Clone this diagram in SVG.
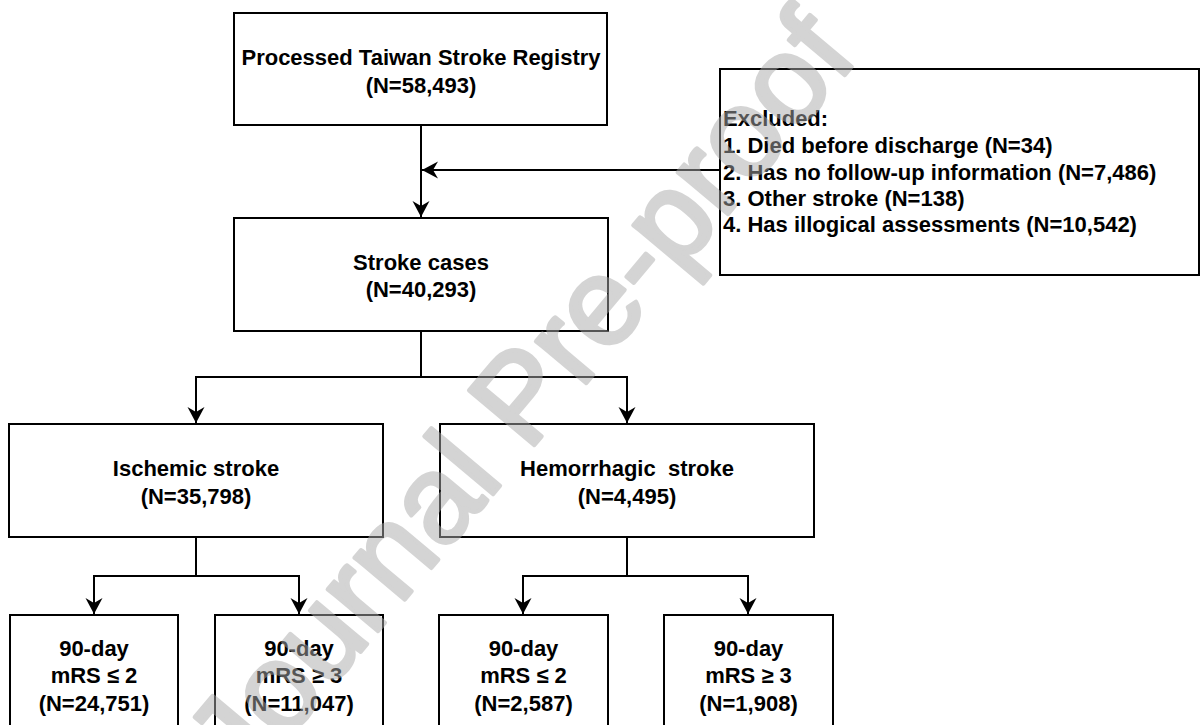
<svg xmlns="http://www.w3.org/2000/svg" width="1201" height="725" viewBox="0 0 1201 725">
<style>
.box{fill:#fff;stroke:#000;stroke-width:2}
.t{font-family:"Liberation Sans",Arial,sans-serif;font-weight:bold;font-size:22px;fill:#000;text-anchor:middle}
.tl{font-family:"Liberation Sans",Arial,sans-serif;font-weight:bold;font-size:22px;fill:#000}
.c{fill:none;stroke:#000;stroke-width:2}
.wm{font-family:"Liberation Sans",Arial,sans-serif;font-size:124px;fill:#aaaaaa;stroke:#aaaaaa;stroke-width:4;stroke-linejoin:round;opacity:0.5;text-anchor:middle}
</style>
<defs>
<marker id="arr" viewBox="-17 -9 18 18" markerWidth="18" markerHeight="18" refX="0" refY="0" orient="auto" markerUnits="userSpaceOnUse">
<path d="M0,0 L-16,-8.5 L-11,0 L-16,8.5 Z" fill="#000"/>
</marker>
</defs>
<rect width="1201" height="725" fill="#fff"/>
<g id="connectors">
<path class="c" d="M421,125 V217" marker-end="url(#arr)"/>
<path class="c" d="M720,170 H422" marker-end="url(#arr)"/>
<path class="c" d="M421,331 V377"/>
<path class="c" d="M421,377 H196 V423" marker-end="url(#arr)"/>
<path class="c" d="M421,377 H627 V423" marker-end="url(#arr)"/>
<path class="c" d="M196,537 V576"/>
<path class="c" d="M196,576 H94 V614" marker-end="url(#arr)"/>
<path class="c" d="M196,576 H299 V614" marker-end="url(#arr)"/>
<path class="c" d="M627,537 V576"/>
<path class="c" d="M627,576 H523 V614" marker-end="url(#arr)"/>
<path class="c" d="M627,576 H748 V614" marker-end="url(#arr)"/>
</g>
<g id="registry">
<rect class="box" x="234" y="13" width="373" height="112"/>
<text class="t" x="421" y="65">Processed Taiwan Stroke Registry</text>
<text class="t" x="421" y="93">(N=58,493)</text>
</g>
<g id="excluded">
<rect class="box" x="720" y="69" width="479" height="206"/>
<text class="tl" x="723" y="126">Excluded:</text>
<text class="tl" x="723" y="153">1. Died before discharge (N=34)</text>
<text class="tl" x="723" y="179.5">2. Has no follow-up information (N=7,486)</text>
<text class="tl" x="723" y="205.5">3. Other stroke (N=138)</text>
<text class="tl" x="723" y="232">4. Has illogical assessments (N=10,542)</text>
</g>
<g id="stroke-cases">
<rect class="box" x="234" y="218" width="374" height="113"/>
<text class="t" x="421" y="270">Stroke cases</text>
<text class="t" x="421" y="297">(N=40,293)</text>
</g>
<g id="ischemic">
<rect class="box" x="9" y="424" width="374" height="113"/>
<text class="t" x="196" y="476">Ischemic stroke</text>
<text class="t" x="196" y="504">(N=35,798)</text>
</g>
<g id="hemorrhagic">
<rect class="box" x="440" y="424" width="374" height="113"/>
<text class="t" x="627" y="476" xml:space="preserve">Hemorrhagic  stroke</text>
<text class="t" x="627" y="504">(N=4,495)</text>
</g>
<g id="isch-good">
<rect class="box" x="10" y="615" width="168" height="130"/>
<text class="t" x="94" y="656">90-day</text>
<text class="t" x="94" y="683">mRS ≤ 2</text>
<text class="t" x="94" y="711">(N=24,751)</text>
</g>
<g id="isch-poor">
<rect class="box" x="215" y="615" width="168" height="130"/>
<text class="t" x="299" y="656">90-day</text>
<text class="t" x="299" y="683">mRS ≥ 3</text>
<text class="t" x="299" y="711">(N=11,047)</text>
</g>
<g id="hem-good">
<rect class="box" x="439" y="615" width="169" height="130"/>
<text class="t" x="523.5" y="656">90-day</text>
<text class="t" x="523.5" y="683">mRS ≤ 2</text>
<text class="t" x="523.5" y="711">(N=2,587)</text>
</g>
<g id="hem-poor">
<rect class="box" x="664" y="615" width="169" height="130"/>
<text class="t" x="748.5" y="656">90-day</text>
<text class="t" x="748.5" y="683">mRS ≥ 3</text>
<text class="t" x="748.5" y="711">(N=1,908)</text>
</g>
<g id="watermark">
<text class="wm" x="0" y="0" transform="translate(552,424) rotate(-50)">Journal Pre-proof</text>
</g>
</svg>
